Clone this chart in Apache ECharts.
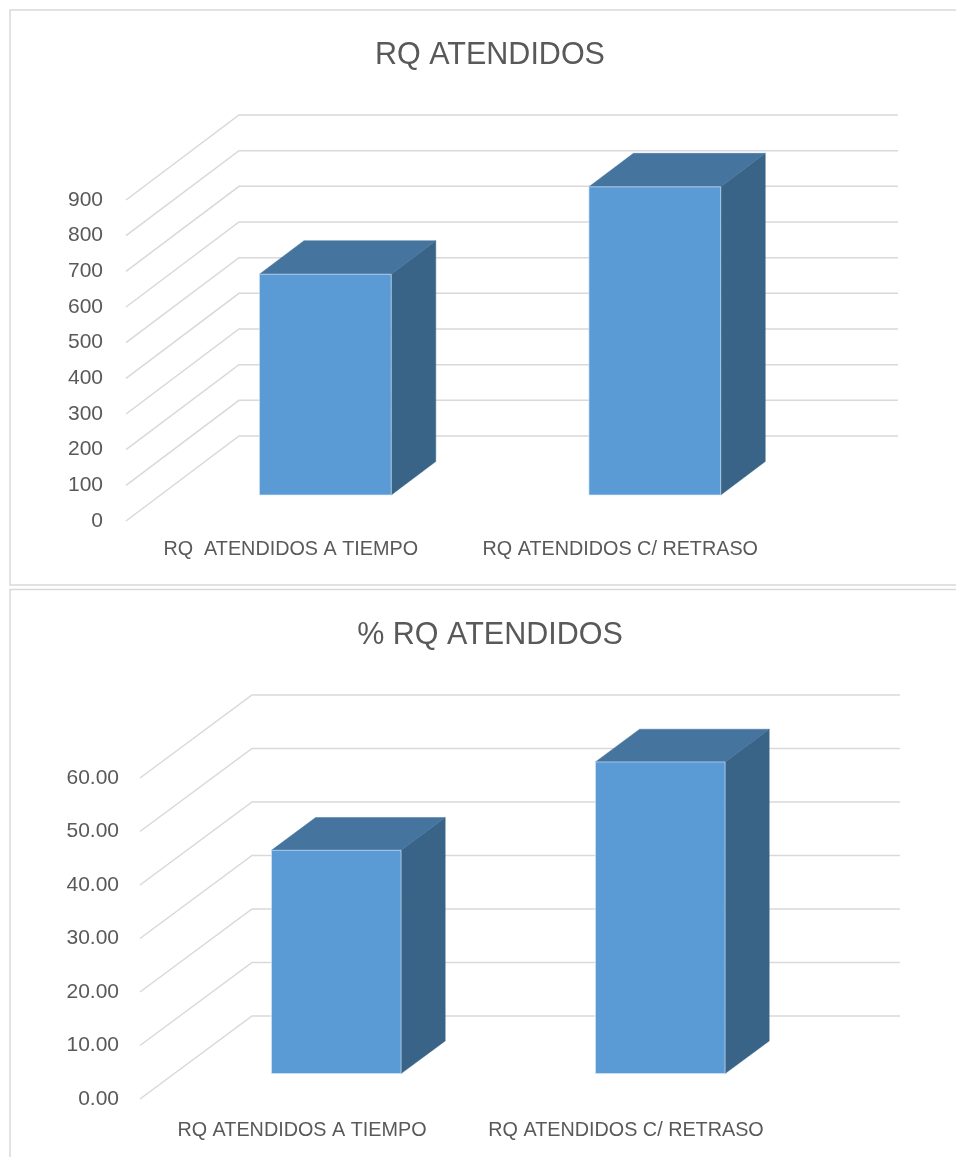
<!DOCTYPE html>
<html>
<head>
<meta charset="utf-8">
<script src="https://cdn.jsdelivr.net/npm/echarts@6/dist/echarts.min.js"></script>
<style>
html,body{margin:0;padding:0;background:#fff;}
#chart{width:956px;height:1157px;}
</style>
</head>
<body>
<div id="chart"></div>
<script>
// ---- data ----
const title1 = 'RQ ATENDIDOS';
const categories1 = ['RQ  ATENDIDOS A TIEMPO', 'RQ ATENDIDOS C/ RETRASO'];
const values1 = [619, 864];
const ticks1 = [0, 100, 200, 300, 400, 500, 600, 700, 800, 900];

const title2 = '% RQ ATENDIDOS';
const categories2 = ['RQ ATENDIDOS A TIEMPO', 'RQ ATENDIDOS C/ RETRASO'];
const values2 = [41.74, 58.26];
const ticks2 = [0, 10, 20, 30, 40, 50, 60];

// ---- styling / projection ----
const FONT = '"Liberation Sans", Arial, sans-serif';
const TXT = '#595959';
const GRIDC = '#d9d9d9';
const F1 = 0.306, F2 = 0.70, BW = 0.4;
const C_FRONT = '#5B9BD5', C_TOP = '#45749F', C_SIDE = '#396487';

function gridRender(DX, DY) {
  return function (params, api) {
    const cs = params.coordSys;
    const y = api.coord([0, api.value(1)])[1];
    return {
      type: 'polyline',
      silent: true,
      shape: { points: [[cs.x, y], [cs.x + DX, y + DY], [cs.x + cs.width + DX, y + DY]] },
      style: { stroke: GRIDC, lineWidth: 1.5, fill: null }
    };
  };
}

function barRender(DX, DY) {
  return function (params, api) {
    const ci = api.value(0), v = api.value(1);
    const c = api.coord([ci, v]);
    const c0 = api.coord([ci, 0]);
    const band = api.size([1, 0])[0];
    const w = band * BW;
    const x1 = c[0] - w / 2 + F1 * DX;
    const x2 = x1 + w;
    const yT = c[1] + F1 * DY;
    const yB = c0[1] + F1 * DY;
    const ddx = (F2 - F1) * DX, ddy = (F2 - F1) * DY;
    return {
      type: 'group',
      children: [
        { type: 'polygon', shape: { points: [[x2, yT], [x2 + ddx, yT + ddy], [x2 + ddx, yB + ddy], [x2, yB]] },
          style: { fill: C_SIDE, stroke: C_SIDE, lineWidth: 0.5 } },
        { type: 'polygon', shape: { points: [[x1, yT], [x2, yT], [x2 + ddx, yT + ddy], [x1 + ddx, yT + ddy]] },
          style: { fill: C_TOP, stroke: C_TOP, lineWidth: 0.5 } },
        { type: 'rect', shape: { x: x1, y: yT, width: w, height: yB - yT },
          style: { fill: C_FRONT, stroke: 'rgba(220,235,250,0.6)', lineWidth: 1 } }
      ]
    };
  };
}

const chart = echarts.init(document.getElementById('chart'), null, { renderer: 'canvas' });

const option = {
  animation: false,
  backgroundColor: '#ffffff',
  graphic: [
    { type: 'rect', silent: true, shape: { x: 10, y: 10, width: 960, height: 575 },
      style: { fill: null, stroke: GRIDC, lineWidth: 1.5 } },
    { type: 'rect', silent: true, shape: { x: 10, y: 589.5, width: 960, height: 600 },
      style: { fill: null, stroke: GRIDC, lineWidth: 1.5 } }
  ],
  title: [
    { text: title1, left: 485, top: 35, textAlign: 'center',
      textStyle: { fontFamily: FONT, fontSize: 30.5, fontWeight: 'normal', color: TXT } },
    { text: title2, left: 485, top: 615, textAlign: 'center',
      textStyle: { fontFamily: FONT, fontSize: 30.5, fontWeight: 'normal', color: TXT } }
  ],
  grid: [
    { left: 126, right: 171, top: 200, bottom: 636, containLabel: false },
    { left: 140, right: 168, top: 778, bottom: 58, containLabel: false }
  ],
  xAxis: [
    { type: 'category', gridIndex: 0, data: categories1,
      axisLine: { show: false }, axisTick: { show: false }, splitLine: { show: false },
      axisLabel: { margin: 19, fontFamily: FONT, fontSize: 19.8, color: TXT, interval: 0 } },
    { type: 'category', gridIndex: 1, data: categories2,
      axisLine: { show: false }, axisTick: { show: false }, splitLine: { show: false },
      axisLabel: { margin: 22, fontFamily: FONT, fontSize: 19.8, color: TXT, interval: 0 } }
  ],
  yAxis: [
    { type: 'value', gridIndex: 0, min: 0, max: 900, interval: 100,
      axisLine: { show: false }, axisTick: { show: false }, splitLine: { show: false },
      axisLabel: { margin: 23, fontFamily: FONT, fontSize: 21, color: TXT } },
    { type: 'value', gridIndex: 1, min: 0, max: 60, interval: 10,
      axisLine: { show: false }, axisTick: { show: false }, splitLine: { show: false },
      axisLabel: { margin: 21, fontFamily: FONT, fontSize: 21, color: TXT,
        formatter: v => v.toFixed(2) } }
  ],
  series: [
    { type: 'custom', xAxisIndex: 0, yAxisIndex: 0, z: 1, silent: true,
      renderItem: gridRender(113, -85), data: ticks1.map(t => [0, t]) },
    { type: 'custom', xAxisIndex: 0, yAxisIndex: 0, z: 2,
      renderItem: barRender(113, -85), data: values1.map((v, i) => [i, v]) },
    { type: 'custom', xAxisIndex: 1, yAxisIndex: 1, z: 1, silent: true,
      renderItem: gridRender(112, -83), data: ticks2.map(t => [0, t]) },
    { type: 'custom', xAxisIndex: 1, yAxisIndex: 1, z: 2,
      renderItem: barRender(112, -83), data: values2.map((v, i) => [i, v]) }
  ]
};
chart.setOption(option);
</script>
</body>
</html>
